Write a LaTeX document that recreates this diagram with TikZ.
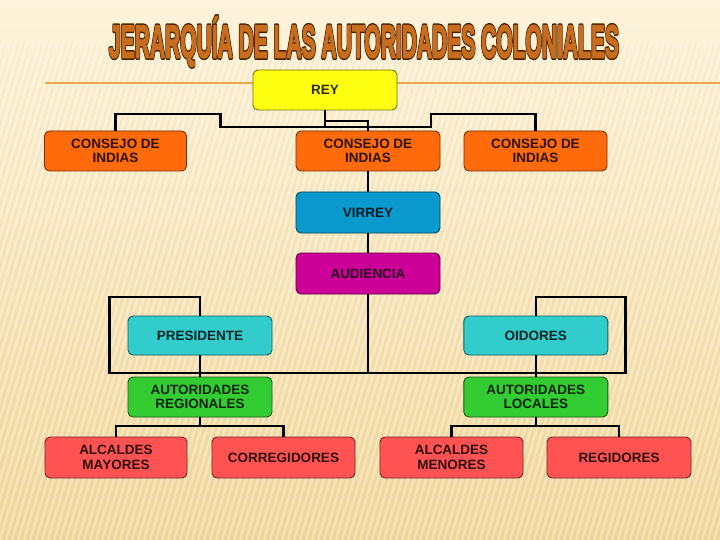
\documentclass[tikz,border=0pt]{standalone}
\usepackage{fontspec}
\setmainfont{Liberation Sans}
\usepackage{graphicx}
\definecolor{bgtop}{HTML}{FEF4DB}
\definecolor{bgbot}{HTML}{F1D89E}
\definecolor{cRey}{HTML}{FFFF11}
\definecolor{cConsejo}{HTML}{FF6A0A}
\definecolor{cVirrey}{HTML}{0A99CC}
\definecolor{cAud}{HTML}{CC0099}
\definecolor{cCyan}{HTML}{33CCCC}
\definecolor{cGreen}{HTML}{33CC33}
\definecolor{cRed}{HTML}{FF5252}
\definecolor{tFill}{HTML}{C86C1E}
\definecolor{tDark}{HTML}{4A2200}
\definecolor{oLine}{HTML}{E9A64A}
\newcommand\mytitletext[1]{\special{pdf:literal direct 2 Tr #1 w 1 j}\resizebox{510pt}{41pt}{\fontsize{46}{46}\selectfont\bfseries JERARQUÍA DE LAS AUTORIDADES COLONIALES}\special{pdf:literal direct 0 Tr 0 j}}
\tikzset{
  box/.style={draw=#1!45!black, fill=#1, rounded corners=5pt, line width=0.9pt,
    minimum width=144pt, minimum height=40pt, text=#1!18!black, align=center,
    font=\bfseries\fontsize{13.5}{14.5}\selectfont, inner sep=0pt},
  conn/.style={draw=black, line width=2.2pt, line join=miter},
  ttl/.style={anchor=base, inner sep=0pt}
}
\begin{document}
\begin{tikzpicture}[x=1pt,y=-1pt]
\useasboundingbox (0,0) rectangle (720,540);
% background
\shade[top color=bgtop, bottom color=bgbot] (0,0) rectangle (720,540);
\begin{scope}
\clip (0,45) rectangle (720,540);
\foreach \i in {-30,...,125} {
  \draw[white, opacity=0.3, line width=1.6pt] (\i*6, 540) -- (\i*6+160, 0);
  \draw[brown, opacity=0.06, line width=1.4pt] (\i*6+3, 540) -- (\i*6+163, 0);
}
\end{scope}
% title: dark outline copy, then fill copy
\node[ttl, text=tDark] (tout) at (364,57.5) {\mytitletext{4.5}};
\node[ttl, text=tFill] (title) at (364,57.5) {\mytitletext{1.6}};
% orange rule
\coordinate (ol1) at (45,83);
\coordinate (ol2) at (720,83);
\draw[oLine, line width=1.6pt] (ol1) -- (ol2);
% nodes
\node[box=cRey] (rey) at (325,90) {REY};
\node[box=cConsejo, minimum width=142pt] (c1) at (115.5,151) {CONSEJO DE\\INDIAS};
\node[box=cConsejo] (c2) at (368,151) {CONSEJO DE\\INDIAS};
\node[box=cConsejo, minimum width=143pt] (c3) at (535.5,151) {CONSEJO DE\\INDIAS};
\node[box=cVirrey, minimum height=41pt] (virrey) at (368,212.5) {VIRREY};
\node[box=cAud, minimum height=41pt] (aud) at (368,273.5) {AUDIENCIA};
\node[box=cCyan, minimum height=39pt] (pres) at (200,335.5) {PRESIDENTE};
\node[box=cCyan, minimum height=39pt] (oid) at (535.8,335.5) {OIDORES};
\node[box=cGreen] (areg) at (200,397) {AUTORIDADES\\REGIONALES};
\node[box=cGreen] (aloc) at (535.8,397) {AUTORIDADES\\LOCALES};
\node[box=cRed, minimum width=142pt, minimum height=41pt] (b1) at (116,457.5) {ALCALDES\\MAYORES};
\node[box=cRed, minimum width=143pt, minimum height=41pt] (b2) at (283.5,457.5) {CORREGIDORES};
\node[box=cRed, minimum width=143pt, minimum height=41pt] (b3) at (451.5,457.5) {ALCALDES\\MENORES};
\node[box=cRed, minimum height=41pt] (b4) at (619,457.5) {REGIDORES};
% top connectors
\coordinate (k1) at (220.5,114);
\coordinate (k2) at (220.5,127.3);
\coordinate (k3) at (431,127.3);
\coordinate (k4) at (431,114);
\draw[conn] (c1.north) |- (k1) -- (k2) -- (k3) -- (k4) -| (c3.north);
\draw[conn] (rey.south) -- (rey.south |- k2);
\coordinate (k5) at (326,120.7);
\draw[conn] (rey.south |- k5) -| (c2.north);
\draw[conn] (c2.south) -- (virrey.north);
\draw[conn] (virrey.south) -- (aud.north);
% middle
\coordinate (h1) at (109.5,372.7);
\coordinate (h2) at (625.5,372.7);
\coordinate (lb) at (109.5,297);
\coordinate (rb) at (625.5,297);
\draw[conn] (aud.south) -- (aud.south |- h1);
\draw[conn] (pres.north) |- (lb) -- (h1) -- (h2) -- (rb) -| (oid.north);
\draw[conn] (pres.south) -- (areg.north);
\draw[conn] (oid.south) -- (aloc.north);
% bottom
\coordinate (m1) at (200,426);
\coordinate (m2) at (535.8,426);
\draw[conn] (areg.south) -- (m1);
\draw[conn] (b1.north) |- (m1) -| (b2.north);
\draw[conn] (aloc.south) -- (m2);
\draw[conn] (b3.north) |- (m2) -| (b4.north);
\end{tikzpicture}
\end{document}
